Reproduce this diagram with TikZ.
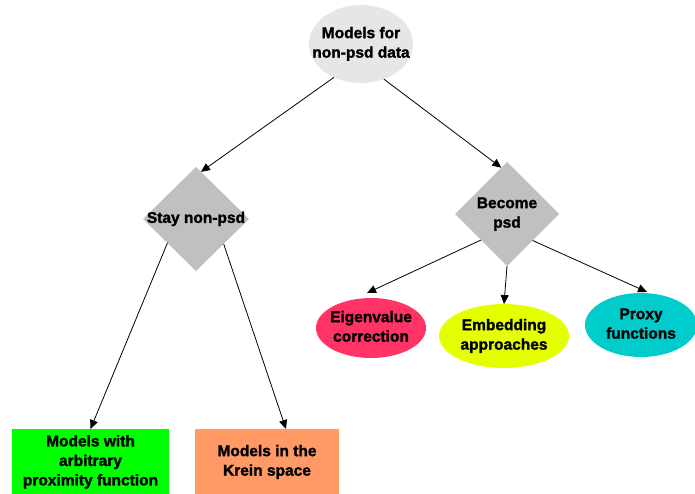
\documentclass[tikz,border=0pt]{standalone}
\usepackage{fontspec}
\setmainfont{Liberation Sans}[BoldFeatures={FakeBold=1.6}]
\usetikzlibrary{shapes.geometric,arrows.meta,calc}
\newcommand\mylbl[1]{\makebox[0pt]{\begin{tabular}{@{}c@{}}#1\end{tabular}}}
\definecolor{topgray}{HTML}{E6E6E6}
\definecolor{diagray}{HTML}{C0C0C0}
\definecolor{eigcol}{HTML}{FF3366}
\definecolor{embcol}{HTML}{E6FF00}
\definecolor{proxcol}{HTML}{00CCCC}
\definecolor{grncol}{HTML}{00FF00}
\definecolor{orgcol}{HTML}{FF9966}
\begin{document}
\begin{tikzpicture}[x=1pt,y=-1pt,
  every node/.style={inner sep=0pt,outer sep=0pt,font=\fontsize{15.5}{19.5}\selectfont\bfseries},
  ell/.style={ellipse,draw=none},
  dia/.style={diamond,draw=none,fill=diagray},
  box/.style={rectangle,draw=none},
  conn/.style={line width=0.8pt,-{Triangle[length=9pt,width=8pt]}}]
\useasboundingbox (0,0) rectangle (695,494);
\node[ell,fill=topgray,minimum width=104pt,minimum height=78pt] (top) at (361,44) {\mylbl{Models for\\non-psd data}};
\node[dia,minimum width=106pt,minimum height=104pt] (stay) at (196,219) {\mylbl{Stay non-psd}};
\node[dia,minimum width=104pt,minimum height=104pt] (become) at (507,214) {\mylbl{Become\\psd}};
\node[ell,fill=eigcol,minimum width=110pt,minimum height=60pt] (eigen) at (371,328) {\mylbl{Eigenvalue\\correction}};
\node[ell,fill=embcol,minimum width=130pt,minimum height=64pt] (embed) at (504,336) {\mylbl{Embedding\\approaches}};
\node[ell,fill=proxcol,minimum width=112pt,minimum height=64pt] (proxy) at (641,325) {\mylbl{Proxy\\functions}};
\node[box,fill=grncol,minimum width=157pt,minimum height=66pt] (green) at (90.5,462) {\mylbl{Models with\\arbitrary\\proximity function}};
\node[box,fill=orgcol,minimum width=144pt,minimum height=66pt] (orange) at (267,462) {\mylbl{Models in the\\Krein space}};
\draw[conn] (top.231) -- (stay.84);
\draw[conn] (top.303) -- (become.97);
\draw[conn] (stay.220) -- (green.north);
\draw[conn] (stay.318) -- ($(orange.north)+(19,0)$);
\draw[conn] (become.225) -- ($(eigen.north)+(-4,-5)$);
\draw[conn] (become.south) -- (embed.north);
\draw[conn] (become.314) -- ($(proxy.north)+(6,-1)$);
\end{tikzpicture}
\end{document}
